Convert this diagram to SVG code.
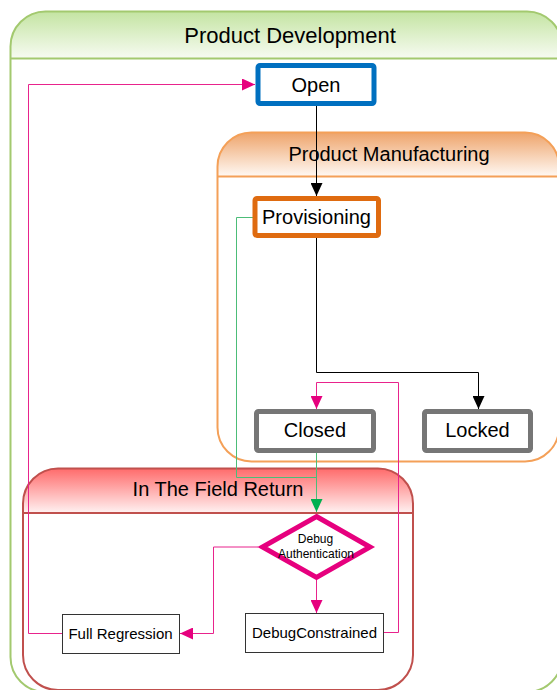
<svg xmlns="http://www.w3.org/2000/svg" width="557" height="690" viewBox="0 0 557 690">
  <defs>
    <linearGradient id="gradGreen" x1="0" y1="0" x2="0" y2="1">
      <stop offset="0" stop-color="#c4e4a2"/>
      <stop offset="1" stop-color="#f7fbf2"/>
    </linearGradient>
    <linearGradient id="gradOrange" x1="0" y1="0" x2="0" y2="1">
      <stop offset="0" stop-color="#eea46b"/>
      <stop offset="1" stop-color="#fff9f4"/>
    </linearGradient>
    <linearGradient id="gradRed" x1="0" y1="0" x2="0" y2="1">
      <stop offset="0" stop-color="#ff6b6b"/>
      <stop offset="1" stop-color="#fff2f2"/>
    </linearGradient>
    <marker id="arrowBlack" viewBox="0 0 13 12" markerWidth="13" markerHeight="12" refX="13" refY="6" orient="auto" markerUnits="userSpaceOnUse">
      <path d="M0,0 L13,6 L0,12 Z" fill="#000000"/>
    </marker>
    <marker id="arrowPink" viewBox="0 0 13 12" markerWidth="13" markerHeight="12" refX="13" refY="6" orient="auto" markerUnits="userSpaceOnUse">
      <path d="M0,0 L13,6 L0,12 Z" fill="#e6007e"/>
    </marker>
    <marker id="arrowGreen" viewBox="0 0 13 12" markerWidth="13" markerHeight="12" refX="13" refY="6" orient="auto" markerUnits="userSpaceOnUse">
      <path d="M0,0 L13,6 L0,12 Z" fill="#00b050"/>
    </marker>
  </defs>
  <style>
    text { font-family: "Liberation Sans", Arial, sans-serif; fill: #000000; text-anchor: middle; }
    .lane-title { font-size: 20px; }
    .state { fill: #ffffff; stroke-width: 5; }
    .state-label { font-size: 20px; }
    .plain { fill: #ffffff; stroke: #333333; stroke-width: 1; }
    .plain-label { font-size: 15px; }
    .edge { fill: none; stroke-width: 1; }
    .edge-black { stroke: #000000; marker-end: url(#arrowBlack); }
    .edge-pink { stroke: #e8238c; marker-end: url(#arrowPink); }
    .edge-green { stroke: #4cbd78; }
    .edge-green-end { marker-end: url(#arrowGreen); }
  </style>

  <!-- Swimlane: Product Development -->
  <g id="lane-product-development">
    <path d="M10.5,692 V46.5 A35,35 0 0 1 45.5,11.5 H527 A35,35 0 0 1 562,46.5 V692 Z" fill="#ffffff"/>
    <path d="M10.5,58.5 V46.5 A35,35 0 0 1 45.5,11.5 H527 A35,35 0 0 1 562,46.5 V58.5 Z" fill="url(#gradGreen)"/>
    <path d="M10.5,657 V46.5 A35,35 0 0 1 45.5,11.5 H527 A35,35 0 0 1 562,46.5 V657 A35,35 0 0 1 527,692 H45.5 A35,35 0 0 1 10.5,657 Z" fill="none" stroke="#a3c96f" stroke-width="2"/>
    <line x1="10.5" y1="58.5" x2="562" y2="58.5" stroke="#a3c96f" stroke-width="2"/>
    <text x="290" y="42.5" style="font-size:22px">Product Development</text>
  </g>

  <!-- Swimlane: Product Manufacturing -->
  <g id="lane-product-manufacturing">
    <path d="M217.5,176.5 V166.5 A34,34 0 0 1 251.5,132.5 H525 A34,34 0 0 1 559,166.5 V176.5 Z" fill="url(#gradOrange)"/>
    <path d="M217.5,427.5 V166.5 A34,34 0 0 1 251.5,132.5 H525 A34,34 0 0 1 559,166.5 V427.5 A34,34 0 0 1 525,461.5 H251.5 A34,34 0 0 1 217.5,427.5 Z" fill="none" stroke="#f4a058" stroke-width="2"/>
    <line x1="217.5" y1="176.5" x2="559" y2="176.5" stroke="#f4a058" stroke-width="2"/>
    <text class="lane-title" x="389" y="161">Product Manufacturing</text>
  </g>

  <!-- Swimlane: In The Field Return -->
  <g id="lane-field-return">
    <path d="M23,513 V503.5 A35,35 0 0 1 58,468.5 H378 A35,35 0 0 1 413,503.5 V513 Z" fill="url(#gradRed)"/>
    <path d="M23,655 V503.5 A35,35 0 0 1 58,468.5 H378 A35,35 0 0 1 413,503.5 V655 A35,35 0 0 1 378,690 H58 A35,35 0 0 1 23,655 Z" fill="none" stroke="#c0504d" stroke-width="2"/>
    <line x1="23" y1="513" x2="413" y2="513" stroke="#c0504d" stroke-width="2"/>
    <text class="lane-title" x="218" y="496">In The Field Return</text>
  </g>

  <!-- Transitions -->
  <g id="connectors">
    <path class="edge edge-black" d="M316.5,106 V196"/>
    <path class="edge edge-black" d="M316.5,238 V372.5 H478.5 V409"/>
    <path class="edge edge-pink" d="M383.5,632.5 H398.5 V382.5 H316.5 V409"/>
    <path class="edge edge-green" d="M253,217.5 H236.5 V477.5 H316.5"/>
    <path class="edge edge-green edge-green-end" d="M316.5,453 V512"/>
    <path class="edge edge-pink" d="M258,547 H213.5 V633.5 H180"/>
    <path class="edge edge-pink" d="M316.5,578 V613"/>
    <path class="edge edge-pink" d="M62.5,633.5 H28.5 V84.5 H255"/>
  </g>

  <!-- States -->
  <g id="node-open">
    <rect class="state" x="258" y="65.5" width="116" height="38" rx="2" stroke="#0070c0"/>
    <text class="state-label" x="316" y="91.5">Open</text>
  </g>
  <g id="node-provisioning">
    <rect class="state" x="255" y="198.5" width="123.5" height="37" rx="2" stroke="#df6b10"/>
    <text class="state-label" x="316.5" y="224">Provisioning</text>
  </g>
  <g id="node-closed">
    <rect class="state" x="256.5" y="411.5" width="117" height="39" rx="2" stroke="#767676"/>
    <text class="state-label" x="315" y="437">Closed</text>
  </g>
  <g id="node-locked">
    <rect class="state" x="424.5" y="411.5" width="106" height="39" rx="2" stroke="#767676"/>
    <text class="state-label" x="477.5" y="437">Locked</text>
  </g>
  <g id="node-debug-authentication">
    <polygon points="316.5,516.5 370,547 316.5,577.5 262.5,547" fill="#ffffff" stroke="#e6007e" stroke-width="5" stroke-linejoin="miter"/>
    <text x="315.5" y="543" style="font-size:12px">Debug</text>
    <text x="316" y="557.5" style="font-size:12px">Authentication</text>
  </g>
  <g id="node-full-regression">
    <rect class="plain" x="62.5" y="614.5" width="117" height="39"/>
    <text class="plain-label" x="120.5" y="639">Full Regression</text>
  </g>
  <g id="node-debug-constrained">
    <rect class="plain" x="245.5" y="613.5" width="138" height="39"/>
    <text class="plain-label" x="314.5" y="637.5">DebugConstrained</text>
  </g>
</svg>
